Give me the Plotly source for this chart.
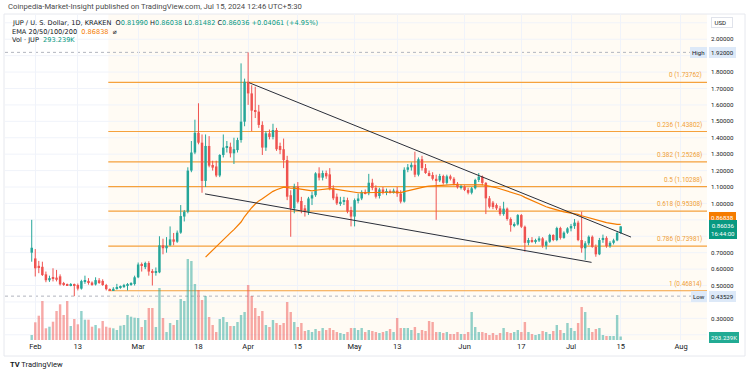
import numpy as np
import pandas as pd
import plotly.graph_objects as go

# ---------------- data ----------------
dates = pd.date_range('2024-01-31', '2024-07-15', freq='D')

opens = [0.700,
 0.665,0.620,0.614,0.568,0.532,0.545,0.548,0.556,0.507,0.504,0.502,0.505,0.503,0.481,0.522,0.528,0.518,0.506,0.532,0.528,0.503,0.478,0.472,0.480,0.487,0.493,0.500,0.505,0.509,
 0.550,0.628,0.612,0.637,0.585,0.578,0.580,0.745,0.727,0.745,0.781,0.767,0.822,0.920,0.950,1.200,1.310,1.430,1.370,1.137,1.350,1.234,1.225,1.170,1.295,1.340,1.345,1.305,1.325,1.386,1.498,
 1.741,1.670,1.565,1.559,1.478,1.340,1.427,1.405,1.447,1.350,1.330,1.264,1.050,0.970,1.102,1.015,0.970,0.950,1.030,1.050,1.183,1.157,1.185,1.177,1.092,1.041,1.000,1.010,1.020,0.960,
 0.920,1.020,1.030,1.070,1.062,1.126,1.095,1.045,1.085,1.065,1.075,1.068,1.078,1.060,1.011,1.205,1.220,1.235,1.175,1.269,1.215,1.185,1.173,1.150,1.140,1.167,1.125,1.165,1.150,1.120,1.098,
 1.102,1.082,1.065,1.092,1.143,1.163,1.125,1.031,1.005,0.990,0.970,0.935,0.968,0.905,0.868,0.872,0.929,0.858,0.760,0.777,0.770,0.774,0.787,0.742,0.767,0.808,0.777,0.850,0.790,0.822,
 0.848,0.862,0.883,0.777,0.727,0.757,0.797,0.735,0.690,0.777,0.790,0.740,0.760,0.775,0.8199]
highs = [0.900,
 0.722,0.650,0.645,0.585,0.560,0.605,0.595,0.568,0.522,0.512,0.515,0.512,0.512,0.535,0.560,0.545,0.525,0.550,0.545,0.538,0.510,0.482,0.490,0.510,0.500,0.510,0.515,0.520,0.560,
 0.640,0.640,0.645,0.648,0.600,0.610,0.800,0.785,0.795,0.860,0.820,0.835,0.990,0.960,1.220,1.380,1.510,1.610,1.420,1.420,1.410,1.260,1.260,1.300,1.420,1.380,1.370,1.400,1.400,1.853,1.760,
 1.920,1.720,1.710,1.600,1.500,1.440,1.450,1.485,1.460,1.370,1.395,1.290,1.080,1.120,1.130,1.040,0.990,1.040,1.070,1.190,1.220,1.200,1.200,1.215,1.110,1.060,1.040,1.040,1.035,0.980,
 1.030,1.060,1.080,1.085,1.180,1.150,1.110,1.095,1.100,1.090,1.085,1.090,1.100,1.080,1.220,1.240,1.250,1.315,1.280,1.290,1.240,1.200,1.190,1.175,1.180,1.175,1.175,1.175,1.160,1.130,1.115,
 1.110,1.095,1.100,1.150,1.185,1.170,1.130,1.045,1.015,1.000,0.985,1.010,0.975,0.915,0.885,0.935,0.935,0.865,0.790,0.795,0.785,0.800,0.795,0.775,0.815,0.812,0.858,0.858,0.830,0.855,
 0.875,0.905,0.895,0.950,0.770,0.805,0.805,0.750,0.790,0.810,0.800,0.770,0.785,0.830,0.86038]
lows = [0.645,
 0.555,0.575,0.558,0.520,0.522,0.525,0.525,0.500,0.498,0.497,0.495,0.435,0.470,0.475,0.510,0.505,0.498,0.500,0.510,0.498,0.470,0.468,0.468,0.475,0.480,0.485,0.470,0.498,0.500,
 0.545,0.585,0.600,0.560,0.500,0.560,0.575,0.690,0.700,0.740,0.745,0.760,0.815,0.890,0.940,1.190,1.300,1.360,1.065,1.100,1.220,1.200,1.160,1.160,1.280,1.310,1.280,1.240,1.310,1.370,1.470,
 1.600,1.440,1.520,1.460,1.295,1.320,1.390,1.390,1.320,1.300,1.215,1.020,0.797,0.940,1.000,0.940,0.920,0.930,0.990,1.040,1.140,1.140,1.150,1.080,1.020,0.990,0.985,0.990,0.940,0.860,
 0.860,1.000,1.020,1.055,1.050,1.080,1.030,1.030,1.055,1.050,1.060,1.060,1.040,1.000,1.005,1.190,1.200,1.160,1.165,1.200,1.180,1.165,1.140,0.900,1.130,1.115,1.115,1.140,1.110,1.090,1.085,
 1.075,1.055,1.055,1.085,1.130,1.110,0.935,0.970,0.965,0.960,0.925,0.925,0.895,0.828,0.855,0.865,0.850,0.706,0.745,0.760,0.755,0.765,0.730,0.720,0.760,0.770,0.770,0.780,0.785,0.815,
 0.830,0.845,0.770,0.700,0.656,0.745,0.730,0.675,0.685,0.760,0.730,0.730,0.750,0.770,0.81482]
closes = [0.730,
 0.605,0.610,0.564,0.532,0.545,0.540,0.535,0.507,0.504,0.502,0.505,0.503,0.481,0.527,0.532,0.516,0.506,0.533,0.520,0.503,0.478,0.472,0.480,0.487,0.493,0.500,0.505,0.512,0.550,
 0.628,0.620,0.637,0.585,0.578,0.580,0.745,0.727,0.742,0.781,0.767,0.822,0.923,0.950,1.200,1.310,1.430,1.370,1.137,1.350,1.230,1.218,1.170,1.295,1.340,1.345,1.305,1.330,1.386,1.498,1.741,
 1.670,1.565,1.559,1.478,1.340,1.427,1.405,1.447,1.330,1.325,1.264,1.041,0.970,1.102,1.010,0.960,0.950,1.030,1.050,1.183,1.157,1.185,1.165,1.092,1.031,1.000,1.010,1.020,0.950,0.920,
 1.020,1.030,1.070,1.062,1.126,1.095,1.041,1.085,1.065,1.075,1.068,1.078,1.060,1.011,1.205,1.220,1.235,1.175,1.269,1.215,1.185,1.173,1.150,1.140,1.167,1.125,1.165,1.150,1.120,1.098,1.102,
 1.082,1.065,1.092,1.143,1.163,1.125,1.031,0.980,0.978,0.970,0.935,0.968,0.905,0.868,0.872,0.929,0.858,0.760,0.777,0.770,0.774,0.787,0.742,0.767,0.808,0.777,0.850,0.790,0.822,0.848,
 0.862,0.883,0.777,0.727,0.757,0.797,0.735,0.690,0.777,0.790,0.740,0.760,0.775,0.8199,0.86036]
volumes_k = [420,
 1487,2041,3276,983,1117,1537,2436,2999,2100,3276,1176,1764,1319,2436,1705,1705,1117,1260,983,1596,1117,1033,983,840,1201,1260,2100,1957,1873,
 1848,1092,1680,2688,2688,1092,4368,1848,672,1428,1260,1680,3444,3276,6804,6636,4704,4200,3360,3696,1932,1260,672,1764,1932,1512,1176,1176,1512,2100,2352,
 4620,3696,2688,2016,2436,1260,1092,1680,1428,1260,1428,3192,2352,1512,1092,1428,756,840,672,924,756,1008,840,1008,840,672,588,504,672,1008,
 1008,840,1008,672,840,756,672,588,672,756,924,672,1848,1008,1008,1008,840,1092,588,840,756,1596,1512,672,672,588,672,504,504,672,504,
 504,672,2352,1092,672,672,588,420,588,420,588,1008,672,588,672,840,672,1512,672,504,420,504,756,672,504,756,1260,840,588,1428,
 1008,756,1428,2772,2352,1008,672,924,1008,420,336,336,336,2100,293.239]

ema_length = 50

fib_ratios = [0, 0.236, 0.382, 0.5, 0.618, 0.786, 1]
fib_prices = [1.73762, 1.43802, 1.25268, 1.10288, 0.95308, 0.73981, 0.46814]
fib_start = '2024-02-21 14:00'

upper_trend_x = ['2024-04-01 07:00', '2024-07-17 22:00']
upper_trend_y = [1.735, 0.795]
lower_trend_x = ['2024-03-19 20:00', '2024-07-06 19:00']
lower_trend_y = [1.058, 0.641]

high_price = 1.92
low_price = 0.43529

x_tick_dates = ['2024-02-01', '2024-02-13', '2024-03-01', '2024-03-18', '2024-04-01', '2024-04-15',
                '2024-05-01', '2024-05-13', '2024-06-01', '2024-06-17', '2024-07-01', '2024-07-15', '2024-08-01']
x_tick_text = ['Feb', '13', 'Mar', '18', 'Apr', '15', 'May', '13', 'Jun', '17', 'Jul', '15', 'Aug']
# 0.4, 0.8, 0.9 and 1.9 sit behind the price / high / low labels in the reference
price_ticks = [0.3, 0.5, 0.6, 0.7, 1.0, 1.1, 1.2, 1.3, 1.4, 1.5, 1.6, 1.7, 1.8, 2.0]
grid_prices = [round(0.2 + 0.1 * i, 1) for i in range(20)]

# ---------------- derived ----------------
o = np.array(opens); h = np.array(highs); l = np.array(lows); c = np.array(closes)
up = c >= o
ema = [None] * len(c)
alpha = 2 / (ema_length + 1)
prev = float(np.mean(c[:ema_length]))
ema[ema_length - 1] = prev
for i in range(ema_length, len(c)):
    prev = alpha * c[i] + (1 - alpha) * prev
    ema[i] = prev

GREEN = '#26a69a'
RED = '#ef5350'
ORANGE = '#f5a13c'
DAY_MS = 86400000

# plot area in pixels
L, R, T, B = 5, 707, 14, 340
W, H = 750, 373
def px(x):
    return (x - L) / (R - L)
def py(y):
    return (B - y) / (B - T)

x_start = pd.Timestamp('2024-02-01') + pd.Timedelta(days=-8.53)
x_end = pd.Timestamp('2024-02-01') + pd.Timedelta(days=189.33)
vol_max = (B - T) * 84.0

fig = go.Figure()

# volume
fig.add_trace(go.Bar(x=dates, y=volumes_k, yaxis='y2', width=0.68 * DAY_MS,
                     marker=dict(color=['rgba(38,166,154,0.5)' if u else 'rgba(239,83,80,0.5)' for u in up],
                                 line=dict(width=0)), hoverinfo='skip'))

# wicks
for mask, col in ((up, GREEN), (~up, RED)):
    xs, ys = [], []
    for d, lo, hi in zip(dates[mask], l[mask], h[mask]):
        xs += [d, d, None]
        ys += [lo, hi, None]
    fig.add_trace(go.Scatter(x=xs, y=ys, mode='lines', line=dict(color=col, width=1), hoverinfo='skip'))

# bodies
for mask, col in ((up, GREEN), (~up, RED)):
    base = np.minimum(o[mask], c[mask])
    hgt = np.maximum(np.abs(c[mask] - o[mask]), 0.006)
    fig.add_trace(go.Bar(x=dates[mask], y=hgt, base=base, width=0.7 * DAY_MS,
                         marker=dict(color=col, line=dict(width=0)), hoverinfo='skip'))

# EMA
fig.add_trace(go.Scatter(x=dates, y=ema, mode='lines', line=dict(color='#f57c00', width=1.2),
                         connectgaps=False, hoverinfo='skip'))

# trendlines
fig.add_trace(go.Scatter(x=upper_trend_x, y=upper_trend_y, mode='lines', line=dict(color='#2a2e39', width=1)))
fig.add_trace(go.Scatter(x=lower_trend_x, y=lower_trend_y, mode='lines', line=dict(color='#2a2e39', width=1)))

shapes = []
shapes.append(dict(type='rect', xref='x', yref='paper', x0=fib_start, x1=x_end, y0=0, y1=1,
                   fillcolor='rgba(255,152,0,0.045)', line=dict(width=0), layer='below'))
for p in grid_prices:
    shapes.append(dict(type='line', xref='paper', yref='y', x0=0, x1=1, y0=p, y1=p,
                       line=dict(color='#f0f3fa', width=1), layer='below'))
for p in fib_prices:
    shapes.append(dict(type='line', xref='x', yref='y', x0=fib_start, x1=x_end, y0=p, y1=p,
                       line=dict(color=ORANGE, width=1.2), layer='between'))
for p in (high_price, low_price):
    shapes.append(dict(type='line', xref='paper', yref='y', x0=0, x1=1, y0=p, y1=p,
                       line=dict(color='#b2b5be', width=1, dash='dot'), layer='between'))
# chart frame
shapes.append(dict(type='rect', xref='paper', yref='paper', x0=px(4), x1=px(745), y0=py(356), y1=py(14),
                   line=dict(color='#e6e8ee', width=1), fillcolor='rgba(0,0,0,0)', layer='below'))

ann = []
FONT = 'Roboto'
LFONT = 'DejaVu Sans'
for r, p in zip(fib_ratios, fib_prices):
    ann.append(dict(xref='paper', yref='y', x=px(704), y=p, yshift=7, xanchor='right', yanchor='middle',
                    text=f'{r:g} ({p:.5f})', showarrow=False, font=dict(size=6.4, color='#f0a035', family=FONT)))

def box(x, y, text, bg, fg, border=None, xanchor='left', size=6.1):
    return dict(xref='paper', yref='paper', x=px(x), y=py(y), xanchor=xanchor, yanchor='middle',
                text=text, showarrow=False, bgcolor=bg, bordercolor=border or bg, borderwidth=1, borderpad=1,
                font=dict(size=size, color=fg, family=FONT))

ann.append(box(709, 52.4, '1.92000', '#dde9f8', '#131722'))
ann.append(box(707, 52.4, 'High', '#dde9f8', '#131722', xanchor='right'))
ann.append(box(709, 296, '0.43529', '#dde9f8', '#131722'))
ann.append(box(707, 296, 'Low', '#dde9f8', '#131722', xanchor='right'))
ann.append(box(709, 217.5, '0.86838', '#f57c00', '#ffffff'))
ann.append(box(709, 230, '0.86036<br>16:44:00', '#089981', '#ffffff'))
ann.append(box(709, 337, '293.239K', '#22ab94', '#ffffff'))
ann.append(box(711, 23, ' USD   ', '#ffffff', '#131722', border='#e0e3eb'))

# header & legend
ann.append(dict(xref='paper', yref='paper', x=px(6), y=py(7), xanchor='left', yanchor='middle', showarrow=False,
                text='Coinpedia-Market-Insight published on TradingView.com, Jul 15, 2024 12:46 UTC+5:30',
                font=dict(size=7.7, color='#4a4a4a', family=FONT)))
g = '#089981'
LEG = 6.6
ann.append(dict(xref='paper', yref='paper', x=px(10), y=py(23), xanchor='left', yanchor='middle', showarrow=False,
                text=('JUP / U. S. Dollar, 1D, KRAKEN  '
                      f'O<span style="color:{g}">0.81990</span> H<span style="color:{g}">0.86038</span> '
                      f'L<span style="color:{g}">0.81482</span> C<span style="color:{g}">0.86036</span> '
                      f'<span style="color:{g}">+0.04061 (+4.95%)</span>'),
                font=dict(size=LEG, color='#131722', family=LFONT)))
ann.append(dict(xref='paper', yref='paper', x=px(10), y=py(31.5), xanchor='left', yanchor='middle', showarrow=False,
                text='EMA 20/50/100/200  <span style="color:#f57c00">0.86838</span>  ⌀',
                font=dict(size=LEG, color='#131722', family=LFONT)))
ann.append(dict(xref='paper', yref='paper', x=px(10), y=py(40), xanchor='left', yanchor='middle', showarrow=False,
                text=f'Vol · JUP  <span style="color:{g}">293.239K</span>',
                font=dict(size=LEG, color='#131722', family=LFONT)))
ann.append(dict(xref='paper', yref='paper', x=px(8), y=py(364), xanchor='left', yanchor='middle', showarrow=False,
                text='<b>TV</b> TradingView', font=dict(size=7.5, color='#131722', family=FONT)))

fig.update_layout(
    width=W, height=H, margin=dict(l=L, r=W - R, t=T, b=H - B),
    paper_bgcolor='#ffffff', plot_bgcolor='#ffffff', showlegend=False, barmode='overlay',
    hovermode=False, shapes=shapes, annotations=ann,
    xaxis=dict(type='date', range=[x_start, x_end], tickvals=x_tick_dates, ticktext=x_tick_text,
               showgrid=True, gridcolor='#f0f3fa', gridwidth=1, zeroline=False, showline=False,
               tickfont=dict(size=7.5, color='#131722', family=FONT), ticks='', fixedrange=True),
    yaxis=dict(side='right', range=[0.1682, 2.1536], tickvals=price_ticks,
               ticktext=[f'{v:.5f}' for v in price_ticks], showgrid=False,
               zeroline=False, showline=False, ticks='', ticklabelstandoff=3,
               tickfont=dict(size=6.2, color='#131722', family=FONT)),
    yaxis2=dict(overlaying='y', range=[0, vol_max], visible=False),
)

fig.write_html('out.html', config={'displayModeBar': False},
               post_script="document.body.style.margin='0';document.body.style.overflow='hidden';")
